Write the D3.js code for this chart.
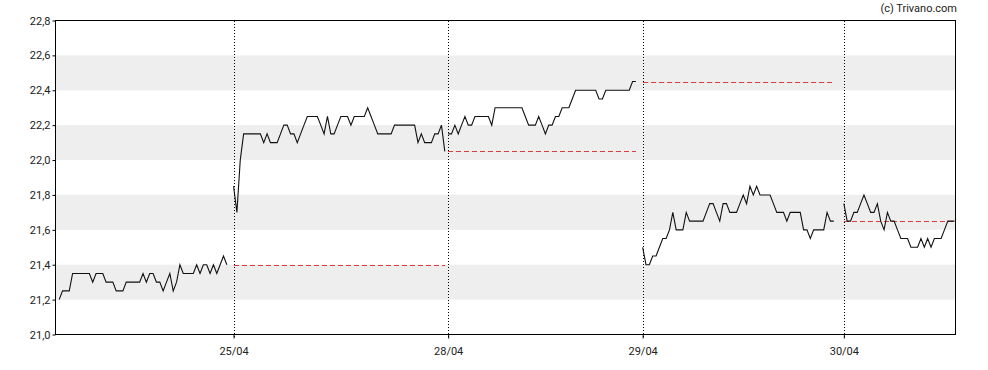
<!DOCTYPE html>
<html>
<head>
<meta charset="utf-8">
<script src="https://cdn.jsdelivr.net/npm/d3@7"></script>
<style>
  body { margin: 0; background: #fff; }
  text { font-family: Roboto, Arial, sans-serif; }
</style>
</head>
<body>
<div id="main"></div>
<script>
// cours intraday par seance (pas de 0,05)
var day1 = [21.2,21.25,21.25,21.25,21.35,21.35,21.35,21.35,21.35,21.35,21.3,21.35,21.35,21.35,21.3,21.3,21.3,21.25,21.25,21.25,21.3,21.3,21.3,21.3,21.3,21.35,21.3,21.35,21.35,21.3,21.3,21.25,21.3,21.35,21.25,21.3,21.4,21.35,21.35,21.35,21.35,21.4,21.35,21.4,21.4,21.35,21.4,21.35,21.4,21.45,21.4];
var day2 = [21.85,21.7,22.0,22.15,22.15,22.15,22.15,22.15,22.15,22.1,22.15,22.1,22.1,22.1,22.15,22.2,22.2,22.15,22.15,22.1,22.15,22.2,22.25,22.25,22.25,22.25,22.2,22.15,22.25,22.15,22.15,22.2,22.25,22.25,22.25,22.2,22.25,22.25,22.25,22.25,22.3,22.25,22.2,22.15,22.15,22.15,22.15,22.15,22.2,22.2,22.2,22.2,22.2,22.2,22.2,22.1,22.15,22.1,22.1,22.1,22.15,22.15,22.2,22.05];
var day3 = [22.15,22.15,22.2,22.15,22.2,22.25,22.2,22.2,22.25,22.25,22.25,22.25,22.25,22.2,22.3,22.3,22.3,22.3,22.3,22.3,22.3,22.3,22.3,22.25,22.2,22.2,22.2,22.25,22.2,22.15,22.2,22.2,22.25,22.25,22.3,22.3,22.3,22.35,22.4,22.4,22.4,22.4,22.4,22.4,22.4,22.35,22.35,22.4,22.4,22.4,22.4,22.4,22.4,22.4,22.4,22.45,22.45];
var day4 = [21.5,21.4,21.4,21.45,21.45,21.5,21.55,21.55,21.6,21.7,21.6,21.6,21.6,21.7,21.65,21.65,21.65,21.65,21.65,21.7,21.75,21.75,21.7,21.65,21.75,21.75,21.7,21.7,21.7,21.75,21.8,21.75,21.85,21.8,21.85,21.8,21.8,21.8,21.8,21.75,21.7,21.7,21.7,21.65,21.7,21.7,21.7,21.7,21.6,21.6,21.55,21.6,21.6,21.6,21.6,21.7,21.65,21.65];
var day5 = [21.75,21.65,21.65,21.7,21.7,21.75,21.8,21.75,21.7,21.7,21.75,21.65,21.6,21.7,21.65,21.65,21.6,21.55,21.55,21.55,21.5,21.5,21.5,21.55,21.5,21.55,21.5,21.55,21.55,21.55,21.6,21.65,21.65,21.65];
var days = [day1, day2, day3, day4, day5];
var dayStart = [0, 52, 116, 174, 234];          // indice du premier echantillon
var dayLabels = ["", "25/04", "28/04", "29/04", "30/04"];
var prevClose = [null, 21.4, 22.05, 22.45, 21.65]; // cloture de la veille
var yTicks = [21.0, 21.2, 21.4, 21.6, 21.8, 22.0, 22.2, 22.4, 22.6, 22.8];
var bands = [[21.2, 21.4], [21.6, 21.8], [22.0, 22.2], [22.4, 22.6]];

var width = 988, height = 370;
var pL = 55.5, pR = 955.5, pT = 20.5, pB = 334.5;

var svg = d3.select("#main").append("svg")
    .attr("width", width).attr("height", height);

var x = d3.scaleLinear().domain([-1.1, 267.3]).range([pL, pR]);
var y = d3.scaleLinear().domain([21.0, 22.8]).range([pB, pT]);

// bandes grises
svg.selectAll(".band").data(bands).enter().append("rect")
    .attr("x", pL).attr("width", pR - pL)
    .attr("y", function(d) { return y(d[1]); })
    .attr("height", function(d) { return y(d[0]) - y(d[1]); })
    .style("fill", "#eeeeee");

// lignes de separation des seances
var sep = days.map(function(d, i) { return {i: i, x: x(dayStart[i]), label: dayLabels[i]}; }).filter(function(d) { return d.i > 0; });
svg.selectAll(".sep").data(sep).enter().append("line")
    .attr("x1", function(d) { return Math.round(d.x) + 0.5; })
    .attr("x2", function(d) { return Math.round(d.x) + 0.5; })
    .attr("y1", pT).attr("y2", pB + 4)
    .style("stroke", "#000").style("stroke-width", 1)
    .style("shape-rendering", "crispEdges")
    .style("stroke-dasharray", "1,2");

// cloture precedente
var refs = days.map(function(d, i) {
  return {v: prevClose[i], x1: x(dayStart[i]), x2: x(dayStart[i] + d.length - 1)};
}).filter(function(d) { return d.v != null; });
svg.selectAll(".ref").data(refs).enter().append("line")
    .attr("x1", function(d) { return Math.round(d.x1); })
    .attr("x2", function(d) { return Math.min(d.x2, pR); })
    .attr("y1", function(d) { return Math.round(y(d.v)) + 0.5; })
    .attr("y2", function(d) { return Math.round(y(d.v)) + 0.5; })
    .style("stroke", "#e03c3c").style("stroke-width", 1)
    .style("shape-rendering", "crispEdges")
    .style("stroke-dasharray", "5,3");

// courbe des cours
var line = d3.line()
    .x(function(d) { return x(d.i); })
    .y(function(d) { return y(d.v); });

days.forEach(function(d, k) {
  var pts = d.map(function(v, j) { return {i: dayStart[k] + j, v: v}; });
  svg.append("path").datum(pts)
      .attr("d", line)
      .style("fill", "none")
      .style("stroke", "#111")
      .style("stroke-width", 1.1);
});

// axes
var yAxis = d3.axisLeft(y).tickValues(yTicks).tickSize(3)
    .tickFormat(function(d) { return d3.format(".1f")(d).replace(".", ","); });
var gy = svg.append("g").attr("transform", "translate(" + pL + ",0)").call(yAxis);
gy.select(".domain").remove();
gy.selectAll("text").style("font-size", "11px").style("fill", "#222").attr("x", -5);

var xAxis = d3.axisBottom(x).tickValues(sep.map(function(d) { return dayStart[d.i]; }))
    .tickSize(4)
    .tickFormat(function(d) { return dayLabels[dayStart.indexOf(d)]; });
var gx = svg.append("g").attr("transform", "translate(0," + pB + ")").call(xAxis);
gx.select(".domain").remove();
gx.selectAll("text").style("font-size", "11px").style("fill", "#222").attr("dy", "1.2em");

// cadre
svg.append("rect")
    .attr("x", pL).attr("y", pT)
    .attr("width", pR - pL).attr("height", pB - pT)
    .style("fill", "none").style("stroke", "#000").style("stroke-width", 1);

svg.append("text")
    .attr("x", 957).attr("y", 12)
    .attr("text-anchor", "end")
    .style("font-size", "11px").style("fill", "#222")
    .text("(c) Trivano.com");
</script>
</body>
</html>
